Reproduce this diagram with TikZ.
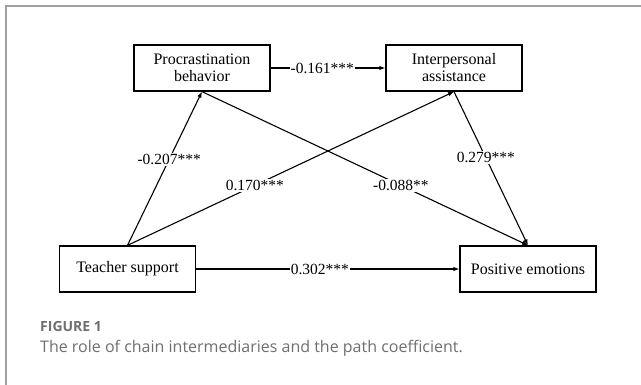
\documentclass[tikz,border=0pt]{standalone}
\usepackage{fontspec}
\setmainfont{Liberation Serif}
\newfontfamily\capfont{Open Sans}
\usetikzlibrary{arrows.meta}
\definecolor{framegray}{RGB}{160,160,160}
\definecolor{capgray}{RGB}{110,110,110}

\begin{document}
\begin{tikzpicture}[x=1pt,y=-1pt,
        var/.style={draw,line width=1.3pt,minimum width=136pt,minimum height=46pt,
            align=center,font=\fontsize{16}{17}\selectfont,inner sep=2pt},
        path/.style={line width=1.1pt,-{Latex[length=6pt,width=4.5pt]}},
        coef/.style={fill=white,inner sep=1pt,font=\fontsize{15.5}{16}\selectfont}]

    \useasboundingbox (0,0) rectangle (641,385);
    \draw[framegray,line width=1.5pt] (6,385) -- (6,6) -- (641,6);

    \node[var] (pb) at (202,68) {Procrastination\\behavior};
    \node[var] (ia) at (454,68) {Interpersonal\\assistance};
    \node[var] (ts) at (127.5,269) {Teacher support};
    \node[var] (pe) at (528,269) {Positive emotions};

    \draw[path] (pb) -- node[coef,pos=0.45] {-0.161***} (ia);
    \draw[path] (ts) -- node[coef,pos=0.47] {0.302***} (pe);
    \draw[path] (ts.north) -- node[coef,pos=0.56] {-0.207***} (pb.south);
    \draw[path] (ts.north) -- node[coef,pos=0.39] {0.170***} (ia.south);
    \draw[path] (pb.south) -- node[coef,pos=0.61] {-0.088**} (pe.north);
    \draw[path] (ia.south) -- node[coef,pos=0.43] {0.279***} (pe.north);

    \node[anchor=west,inner sep=0pt,text=capgray,font=\capfont\fontsize{14}{16}\selectfont\bfseries]
        (fig) at (40,326) {FIGURE 1};
    \node[anchor=west,inner sep=0pt,text=capgray,font=\capfont\fontsize{16}{18}\selectfont]
        (cap) at (40,348) {The role of chain intermediaries and the path coefficient.};
\end{tikzpicture}
\end{document}
